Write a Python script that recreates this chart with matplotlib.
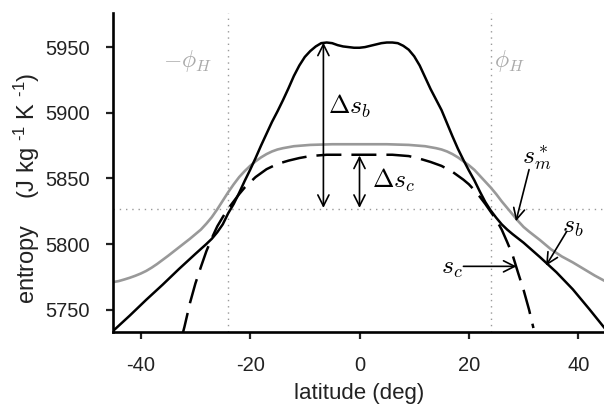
import matplotlib
matplotlib.use('Agg')
import matplotlib.pyplot as plt

plt.rcParams['font.family'] = ['Liberation Sans', 'DejaVu Sans']
plt.rcParams['mathtext.fontset'] = 'custom'
plt.rcParams['mathtext.rm'] = 'Liberation Sans'
plt.rcParams['mathtext.it'] = 'Liberation Sans:italic'
plt.rcParams['axes.unicode_minus'] = False

# s_b (boundary layer entropy), black solid
lat_b = [-45, -42, -39, -36, -33, -30, -28, -27, -26, -25, -24, -23, -22, -21, -20,
         -19, -18, -17, -16, -15, -14, -13, -12, -11, -10, -9, -8, -7, -6, -5, -4,
         -3, -2, -1, 0, 1, 2, 3, 4, 5, 6, 7, 8, 9, 10, 11, 12, 13, 14, 15, 16, 17,
         18, 19, 20, 21, 22, 23, 24, 25, 26, 27, 28, 30, 33, 36, 39, 42, 45]
s_b = [5734, 5745.5, 5757.5, 5769, 5781, 5792.5, 5800, 5804, 5809, 5815, 5823.5, 5830.5, 5839, 5848, 5856.5,
       5865.5, 5875, 5884, 5893, 5901, 5909.5, 5918.5, 5928, 5936, 5942.5, 5947, 5950.5, 5953, 5953.5, 5953, 5951.5,
       5950.5, 5950, 5949.5, 5949.5, 5950, 5951, 5952, 5953, 5953.5, 5953.5, 5953, 5951, 5948, 5943, 5936, 5927, 5918, 5910, 5902, 5892, 5882,
       5872.5, 5864, 5856, 5848.5, 5840, 5832, 5825.5, 5820, 5815, 5811, 5807.5, 5801, 5790, 5778.5, 5765.5, 5750.5, 5735]

# s_m* (saturation moist entropy), gray
lat_m = [-45, -44, -43, -42, -41, -40, -39, -38, -37, -35, -33, -31, -30, -29, -28, -27, -26, -25, -24,
         -23, -22, -21, -20, -19, -18, -17, -16, -15, -14, -12, -9, -5, 0, 5, 9, 12,
         14, 15, 16, 17, 18, 19, 20, 21, 22, 23, 24, 25, 26, 27, 28, 29, 30, 31, 33,
         35, 37, 39, 41, 43, 45]
s_m = [5771, 5771.8, 5773, 5774.3, 5775.8, 5777.5, 5779.5, 5782, 5784.8, 5791, 5797.5, 5804, 5807.5, 5811, 5815.5, 5820.5, 5826.5, 5833, 5839.5,
       5845.5, 5851, 5855.5, 5859.5, 5863, 5866, 5868.5, 5870.5, 5872, 5873, 5874.5, 5875.5, 5876, 5876, 5876, 5875.5, 5874.5,
       5873, 5872, 5870.5, 5868.5, 5866, 5863, 5860, 5856.5, 5852, 5847.5, 5843, 5838, 5832.5, 5827.5, 5822.5, 5817.5, 5813, 5809.5, 5803,
       5796, 5790.5, 5786, 5781, 5776, 5771.5]

# s_c (critical entropy), black dashed
lat_c = [-32.5, -32, -31, -30, -29, -28, -27, -26, -25, -24, -23, -22, -21, -20, -19,
         -18, -17, -16, -15, -13, -11, -9, -6, 0, 6, 9, 11, 13, 15, 17, 18, 19, 20,
         21, 22, 23, 24, 25, 26, 27, 28, 29, 30, 31, 31.8]
s_c = [5729, 5737, 5755, 5770, 5782.5, 5794.5, 5804.5, 5813.5, 5820.5, 5827, 5832.5, 5838, 5843, 5847, 5851,
       5854, 5857, 5859, 5861, 5863.5, 5865.5, 5867, 5868, 5868, 5868, 5867, 5865, 5862.5, 5859.5, 5855, 5852, 5849, 5845.5,
       5841, 5836, 5830.5, 5824.5, 5818.5, 5811, 5801.5, 5791.5, 5778, 5765, 5750, 5736]

phi_h = 24
s_ref = 5826.5

xticks = [-40, -20, 0, 20, 40]
yticks = [5750, 5800, 5850, 5900, 5950]

fig = plt.figure(figsize=(6.04, 4.09), dpi=100)
ax = fig.add_axes([0.1877, 0.1883, 0.815, 0.78])

ax.axhline(s_ref, color='#999999', lw=1.0, ls=(0, (1, 3.5)), zorder=1)
ax.axvline(-phi_h, color='#999999', lw=1.0, ls=(0, (1, 3.5)), zorder=1)
ax.axvline(phi_h, color='#999999', lw=1.0, ls=(0, (1, 3.5)), zorder=1)

ax.plot(lat_m, s_m, color='#999999', lw=1.9, zorder=2)
ax.plot(lat_c, s_c, color='k', lw=1.8, dashes=(10, 4), zorder=3)
ax.plot(lat_b, s_b, color='k', lw=1.8, zorder=4)

ax.set_xlim(-45, 45)
ax.set_ylim(5733, 5976)
ax.set_xticks(xticks)
ax.set_yticks(yticks)

for side in ['top', 'right']:
    ax.spines[side].set_visible(False)
for side in ['left', 'bottom']:
    ax.spines[side].set_linewidth(1.9)
ax.tick_params(direction='out', length=5, width=1.6, labelsize=14.5, colors='#222222')
ax.tick_params(axis='x', pad=12)
ax.tick_params(axis='y', pad=12)

ax.set_xlabel('latitude (deg)', fontsize=16, color='#222222', labelpad=6)
ax.set_ylabel(r'entropy    (J kg $^{\text{-1}}$ K $^{\text{-1}}$)', fontsize=17, color='#222222')
ax.yaxis.set_label_coords(-0.145, 0.45)

# arrows
def arr(x0, y0, x1, y1, style='->'):
    ax.annotate('', xy=(x1, y1), xytext=(x0, y0),
                arrowprops=dict(arrowstyle=style, color='k', lw=1.2,
                                shrinkA=0, shrinkB=0, mutation_scale=20))

arr(-6.6, 5953.4, -6.6, 5827.5, '<->')
arr(0, 5867.4, 0, 5827.5, '<->')
arr(19.0, 5783, 28.7, 5783)
arr(31.0, 5856.7, 28.6, 5817.3)
arr(37.9, 5809.7, 34.1, 5783.5)

mt = dict(math_fontfamily='cm', fontsize=18.5)
ax.text(-5.8, 5899, r'$\Delta s_b$', ha='left', va='baseline', **mt)
ax.text(2.2, 5843, r'$\Delta s_c$', ha='left', va='baseline', **mt)
ax.text(18.8, 5782, r'$s_c$', ha='right', va='center', **mt)
ax.text(32.4, 5866, r'$s_m^*$', ha='center', va='center', **mt)
ax.text(39.0, 5813, r'$s_b$', ha='center', va='center', **mt)
ph = dict(math_fontfamily='cm', fontsize=17, color='#aaaaaa')
ax.text(-27.0, 5934.5, r'$-\phi_H$', ha='right', va='baseline', **ph)
ax.text(24.5, 5935, r'$\phi_H$', ha='left', va='baseline', **ph)

fig.savefig('out.png', dpi=100)
